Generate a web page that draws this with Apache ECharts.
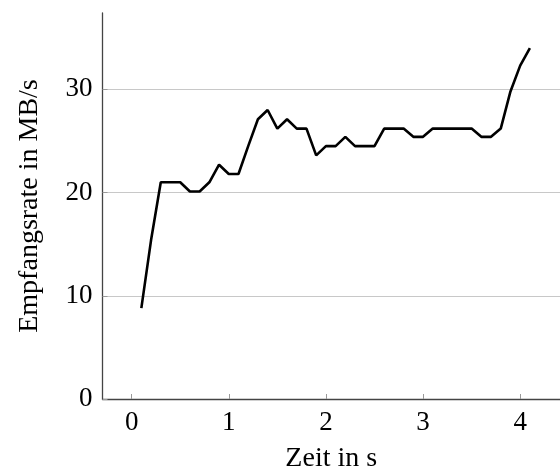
<!DOCTYPE html>
<html>
<head>
<meta charset="utf-8">
<script src="https://cdn.jsdelivr.net/npm/echarts@6/dist/echarts.min.js"></script>
<style>
  html, body { margin: 0; padding: 0; background: #fff; }
  #main { width: 560px; height: 471px; }
</style>
</head>
<body>
<div id="main"></div>
<script>
// Zeit in s
var zeit = [0.1, 0.2, 0.3, 0.4, 0.5, 0.6, 0.7, 0.8, 0.9, 1.0,
  1.1, 1.2, 1.3, 1.4, 1.5, 1.6, 1.7, 1.8, 1.9, 2.0,
  2.1, 2.2, 2.3, 2.4, 2.5, 2.6, 2.7, 2.8, 2.9, 3.0,
  3.1, 3.2, 3.3, 3.4, 3.5, 3.6, 3.7, 3.8, 3.9, 4.0, 4.1];
// Empfangsrate in MB/s
var rate = [8.8, 15.4, 21.0, 21.0, 21.0, 20.1, 20.1, 21.0, 22.7, 21.8,
  21.8, 24.5, 27.1, 28.0, 26.2, 27.1, 26.2, 26.2, 23.6, 24.5,
  24.5, 25.4, 24.5, 24.5, 24.5, 26.2, 26.2, 26.2, 25.4, 25.4,
  26.2, 26.2, 26.2, 26.2, 26.2, 25.4, 25.4, 26.2, 29.8, 32.3, 34.0];
var xTicks = [0, 1, 2, 3, 4];

var font = '"Liberation Serif", "DejaVu Serif", serif';
var pts = zeit.map(function (t, i) { return [t, rate[i]]; });

var chart = echarts.init(document.getElementById('main'));
var option = {
  animation: false,
  grid: { left: 102.5, right: 0, top: 13, bottom: 72, containLabel: false, outerBoundsMode: 'none' },
  xAxis: {
    type: 'value',
    min: -0.3,
    max: 4.41,
    name: 'Zeit in s',
    nameLocation: 'middle',
    nameGap: 46,
    nameTextStyle: { fontFamily: font, fontSize: 28, color: '#000' },
    axisLine: { show: true, onZero: false, lineStyle: { color: '#444', width: 1.3 } },
    axisTick: { show: true, inside: true, length: 5, lineStyle: { color: '#999' },
      customValues: xTicks },
    axisLabel: { fontFamily: font, fontSize: 27, color: '#000', margin: 10,
      customValues: xTicks, hideOverlap: false },
    splitLine: { show: false }
  },
  yAxis: {
    type: 'value',
    min: 0,
    max: 37.4,
    interval: 10,
    name: 'Empfangsrate in MB/s',
    nameLocation: 'middle',
    nameGap: 59,
    nameTextStyle: { fontFamily: font, fontSize: 28, color: '#000' },
    axisLine: { show: true, onZero: false, lineStyle: { color: '#444', width: 1.3 } },
    axisTick: { show: true, inside: true, length: 5, lineStyle: { color: '#999' } },
    axisLabel: { fontFamily: font, fontSize: 27, color: '#000', margin: 10, showMaxLabel: false },
    splitLine: { show: true, showMinLine: false, showMaxLine: false,
      lineStyle: { color: '#c8c8c8', width: 1 } }
  },
  series: [{
    type: 'line',
    data: pts,
    showSymbol: false,
    symbol: 'none',
    lineStyle: { color: '#000', width: 2.6 },
    itemStyle: { color: '#000' }
  }]
};
chart.setOption(option);
</script>
</body>
</html>
